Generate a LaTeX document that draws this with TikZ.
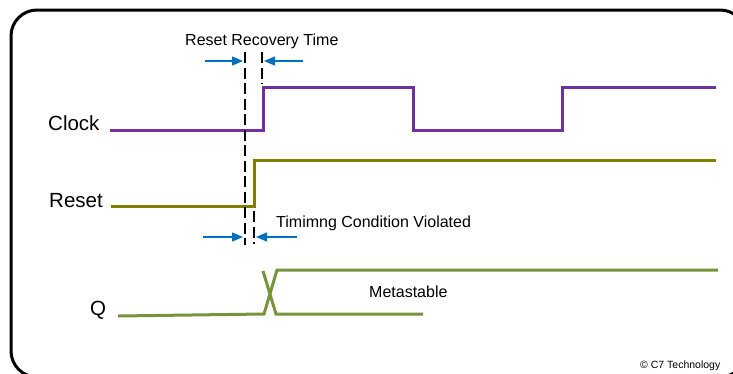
\documentclass[tikz,border=0pt]{standalone}
\usepackage{fontspec}
\setmainfont{Liberation Sans}
\usetikzlibrary{arrows.meta}
\definecolor{clk}{HTML}{7030A0}
\definecolor{rst}{HTML}{808000}
\definecolor{qcol}{HTML}{77933C}
\definecolor{arr}{HTML}{0070C0}
\begin{document}
\begin{tikzpicture}[x=1pt,y=-1pt, line join=miter,
  sig/.style={line width=3pt},
  guide/.style={line width=1.6pt, dash pattern=on 11pt off 4.5pt},
  meas/.style={draw=arr, line width=1.4pt, -{Triangle[length=11pt,width=9pt]}},
  lbl/.style={font=\fontsize{20.5}{24}\selectfont, inner sep=0, anchor=base west},
  note/.style={font=\fontsize{16}{19}\selectfont, inner sep=0, anchor=base west},
  small/.style={font=\fontsize{10.5}{12}\selectfont, inner sep=0, anchor=base west}]
\useasboundingbox (0,0) rectangle (733,373);
\draw[line width=3pt, rounded corners=26pt] (11,10) rectangle (746,377);

% labels
\node[lbl] (clklbl) at (48,130.5) {Clock};
\node[lbl] (rstlbl) at (49,207) {Reset};
\node[lbl] (qlbl) at (90,315) {Q};
\node[note] (rrt) at (185,45) {Reset Recovery Time};
\node[note] (tcv) at (276,227) {Timimng Condition Violated};
\node[note] (meta) at (369,297) {Metastable};
\node[small] (copy) at (640,368) {© C7 Technology};

% waveforms
\draw[sig,clk] (110,130) -- (263,130) -- (263,87) -- (413,87) -- (413,130) -- (562,130) -- (562,87) -- (716,87);
\draw[sig,rst] (111,206) -- (254,206) -- (254,160) -- (716,160);
\draw[sig,qcol] (118,316) -- (264,314) -- (277,270) -- (718,270);
\draw[sig,qcol] (263,271) -- (276,314) -- (423,314);

% guides
\draw[guide] (245,52) -- (245,245);
\draw[guide] (262,52) -- (262,84);
\draw[guide] (254,211) -- (254,244);

% measurement arrows
\coordinate (a1s) at (205,61); \coordinate (a1e) at (243,61);
\coordinate (a2s) at (303,61); \coordinate (a2e) at (264,61);
\coordinate (b1s) at (203,237); \coordinate (b1e) at (243,237);
\coordinate (b2s) at (297,237); \coordinate (b2e) at (256,237);
\draw[meas] (a1s) -- (a1e);
\draw[meas] (a2s) -- (a2e);
\draw[meas] (b1s) -- (b1e);
\draw[meas] (b2s) -- (b2e);
\end{tikzpicture}
\end{document}
